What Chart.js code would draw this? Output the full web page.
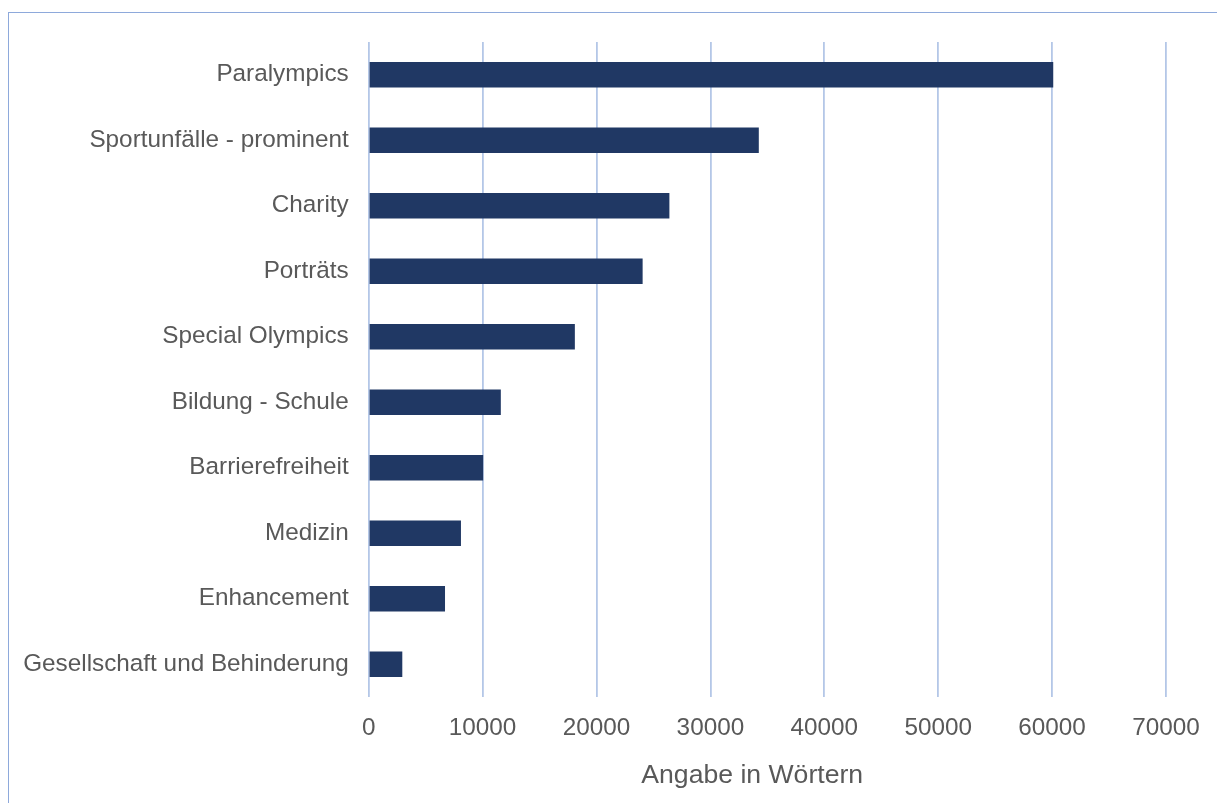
<!DOCTYPE html>
<html>
<head>
<meta charset="utf-8">
<script src="https://cdn.jsdelivr.net/npm/chart.js@4/dist/chart.umd.min.js"></script>
<style>
  html, body { margin: 0; padding: 0; background: #fff; overflow: hidden; }
  #wrap { position: relative; width: 1217px; height: 803px; }
  #frame { position: absolute; left: 8px; top: 12px; width: 3000px; height: 3000px;
           border: 1.5px solid #8EA9DB; box-sizing: border-box; pointer-events: none; }
  canvas { position: absolute; left: 0; top: 0; }
</style>
</head>
<body>
<div id="wrap">
  <canvas id="c" width="1217" height="803"></canvas>
  <div id="frame"></div>
</div>
<script>
const categories = [
  "Paralympics",
  "Sportunfälle - prominent",
  "Charity",
  "Porträts",
  "Special Olympics",
  "Bildung - Schule",
  "Barrierefreiheit",
  "Medizin",
  "Enhancement",
  "Gesellschaft und Behinderung"
];
const values = [60100, 34250, 26400, 24050, 18100, 11600, 10050, 8100, 6700, 2950];
const axisTitle = "Angabe in Wörtern";
const xMin = 0, xMax = 70000, xStep = 10000;

const FONT = "'Liberation Sans', Arial, sans-serif";
const TEXT = "#595959";

const titlePlugin = {
  id: 'axisTitle',
  afterDraw(chart) {
    const ctx = chart.ctx;
    const a = chart.chartArea;
    ctx.save();
    ctx.font = "26.6px " + FONT;
    ctx.fillStyle = TEXT;
    ctx.textAlign = 'center';
    ctx.textBaseline = 'alphabetic';
    ctx.fillText(axisTitle, a.left + (a.right - a.left) * 0.481, 783);
    ctx.restore();
  }
};

new Chart(document.getElementById('c'), {
  type: 'bar',
  data: {
    labels: categories,
    datasets: [{
      data: values,
      backgroundColor: '#203864',
      borderWidth: 0,
      barPercentage: 0.39,
      categoryPercentage: 1.0
    }]
  },
  options: {
    indexAxis: 'y',
    responsive: false,
    animation: false,
    events: [],
    layout: { padding: { top: 42, right: 51, left: 0, bottom: 0 } },
    plugins: { legend: { display: false }, tooltip: { enabled: false }, title: { display: false } },
    scales: {
      x: {
        min: xMin, max: xMax,
        ticks: { stepSize: xStep, color: TEXT, font: { family: FONT, size: 24.3 }, padding: 17, maxRotation: 0,
                 callback: (v) => String(v) },
        grid: { color: '#B4C7E7', lineWidth: 1.8, drawTicks: false },
        border: { display: false },
        afterFit(s) { s.height = 106; }
      },
      y: {
        ticks: { color: TEXT, font: { family: FONT, size: 24.3 }, padding: 20 },
        grid: { display: false, drawTicks: false },
        border: { display: false },
        afterFit(s) { s.width = 368.7; }
      }
    }
  },
  plugins: [titlePlugin]
});
</script>
</body>
</html>
